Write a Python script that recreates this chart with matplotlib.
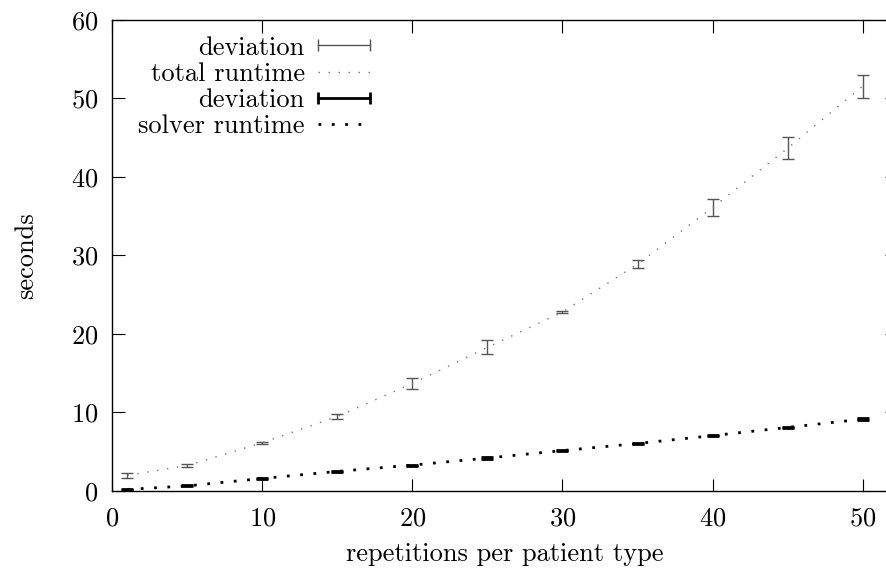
import matplotlib
matplotlib.use("Agg")
import matplotlib.pyplot as plt
from matplotlib.lines import Line2D
from matplotlib.legend_handler import HandlerLine2D

# -------------------------
# DATA
# -------------------------
reps = [1, 5, 10, 15, 20, 25, 30, 35, 40, 45, 50]
total_runtime = [2.0, 3.25, 6.15, 9.5, 13.7, 18.3, 22.8, 28.9, 36.1, 43.65, 51.55]
total_dev = [0.3, 0.25, 0.15, 0.3, 0.65, 0.9, 0.15, 0.5, 1.1, 1.4, 1.45]
solver_runtime = [0.2, 0.65, 1.6, 2.5, 3.3, 4.2, 5.15, 6.05, 7.05, 8.1, 9.15]
solver_dev = [0.05, 0.06, 0.06, 0.06, 0.07, 0.07, 0.08, 0.08, 0.09, 0.09, 0.1]

# -------------------------
# STYLE
# -------------------------
plt.rcParams["font.family"] = "cmr10"
plt.rcParams["axes.formatter.use_mathtext"] = True
plt.rcParams["font.size"] = 19

fig = plt.figure(figsize=(8.87, 5.71), dpi=100)
# right border of the plot lies just outside the picture, as in the original
ax = fig.add_axes([0.1268, 0.1401, 0.885, 0.8249])

grey_err = "#555555"
grey_line = "#777777"

# -------------------------
# PLOT
# -------------------------
ax.errorbar(reps, total_runtime, yerr=total_dev, fmt="none",
            ecolor=grey_err, elinewidth=1.0, capsize=4.5, capthick=1.0)
ax.plot(reps, total_runtime, color=grey_line, lw=1.0, linestyle=(0, (1, 6.2)))
ax.errorbar(reps, solver_runtime, yerr=solver_dev, fmt="none",
            ecolor="black", elinewidth=2.0, capsize=4.5, capthick=2.0)
ax.plot(reps, solver_runtime, color="black", lw=2.0, linestyle=(0, (1, 3.8)))

ax.set_xlim(0, 52.33)
ax.set_ylim(0, 60)
ax.set_xticks(range(0, 51, 10))
ax.set_yticks(range(0, 61, 10))
ax.tick_params(direction="in", length=9, width=0.8, top=True, right=True)
ax.tick_params(axis="x", pad=11)
ax.tick_params(axis="y", pad=10)
for s in ax.spines.values():
    s.set_linewidth(1.0)

ax.set_xlabel("repetitions per patient type", labelpad=9)
ax.set_ylabel("seconds", labelpad=24)

# gnuplot-style key: text on the left, right aligned, sample on the right
handles = [
    Line2D([], [], color=grey_err, lw=1.0, marker="|", markersize=9, mew=1.0),
    Line2D([], [], color=grey_line, lw=1.0, linestyle=(0, (1, 6.2))),
    Line2D([], [], color="black", lw=2.0, marker="|", markersize=9, mew=2.0),
    Line2D([], [], color="black", lw=2.0, linestyle=(0, (1, 3.8))),
]
labels = ["deviation", "total runtime", "deviation", "solver runtime"]
ax.legend(handles, labels, loc="upper right", bbox_to_anchor=(0.328, 0.966),
          frameon=False, markerfirst=False, numpoints=2,
          handler_map={Line2D: HandlerLine2D(marker_pad=0)},
          handlelength=1.97, handletextpad=0.5, labelspacing=0.09,
          borderaxespad=0, borderpad=0)

fig.savefig("out.png", dpi=100)
